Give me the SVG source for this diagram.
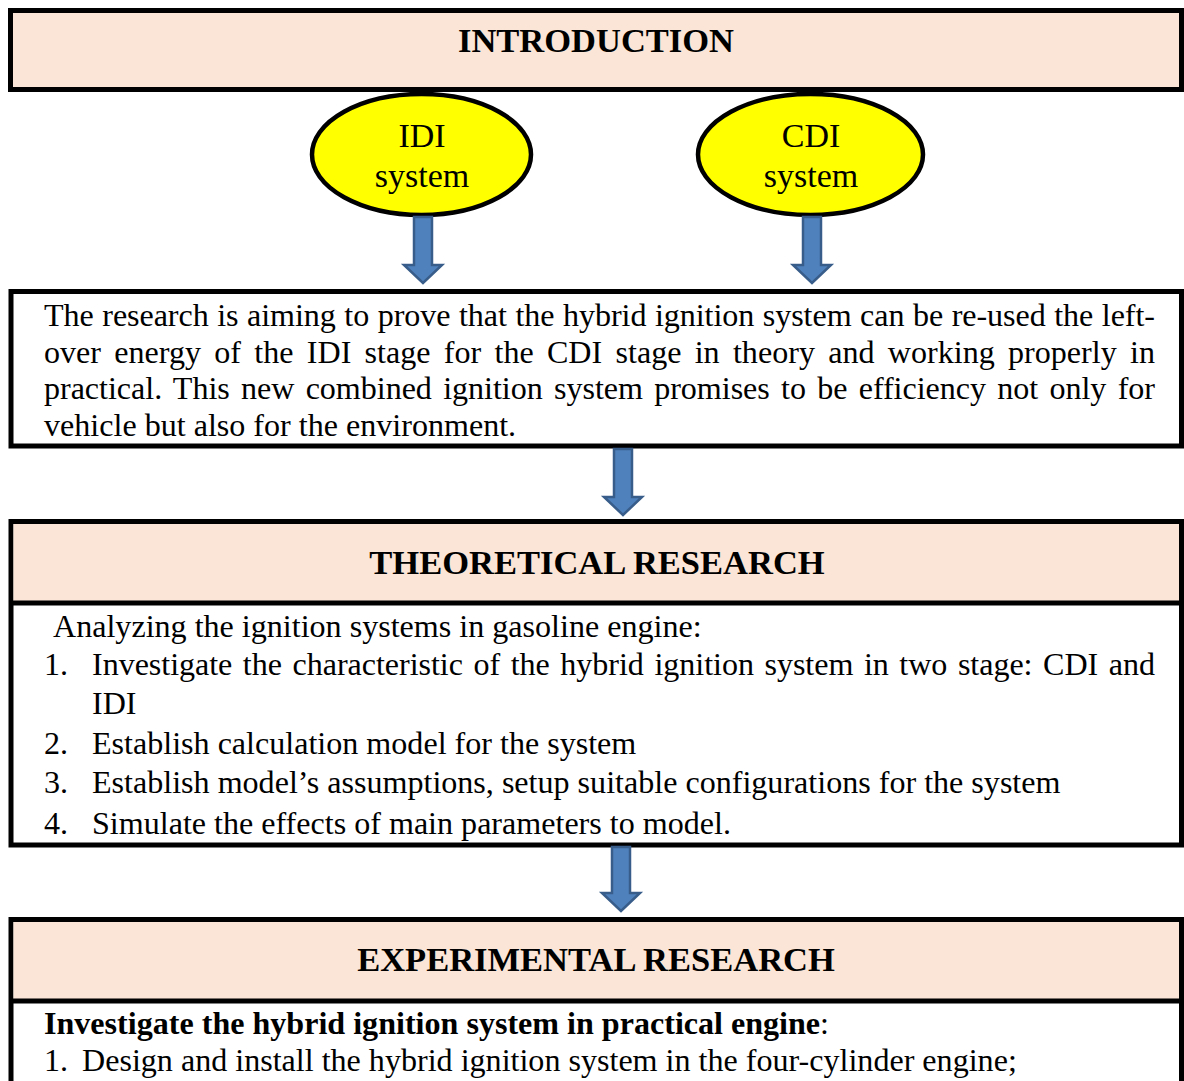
<svg xmlns="http://www.w3.org/2000/svg" width="1184" height="1081" viewBox="0 0 1184 1081">
<style>
.box{fill:#ffffff;stroke:#000;stroke-width:5}
.hdr{fill:#FBE5D6;stroke:#000;stroke-width:5}
.ell{fill:#FFFF00;stroke:#000;stroke-width:4.5}
.arr{fill:#4F81BD;stroke:#385D8A;stroke-width:2.5}
.sep{stroke:#000;stroke-width:5;fill:none}
text{font-family:"Liberation Serif","Times New Roman",serif;fill:#000}
.h{font-size:34.5px;font-weight:bold;text-anchor:middle}
.e{font-size:34px;text-anchor:middle}
.b{font-size:32.1px}
</style>
<rect width="1184" height="1081" fill="#ffffff"/>
<g id="introduction">
<rect class="hdr" x="10.5" y="10.5" width="1171" height="79"/>
<text class="h" x="596" y="52">INTRODUCTION</text>
</g>
<g id="idi">
<ellipse class="ell" cx="421.5" cy="154.5" rx="109.5" ry="60.5"/>
<text class="e" x="422" y="147">IDI</text>
<text class="e" x="422" y="187">system</text>
</g>
<g id="cdi">
<ellipse class="ell" cx="810.5" cy="154.5" rx="112.5" ry="60.5"/>
<text class="e" x="811" y="147">CDI</text>
<text class="e" x="811" y="187">system</text>
</g>
<g id="aim">
<rect class="box" x="11" y="291.5" width="1170.5" height="154.5"/>
<text class="b" x="44" y="326" word-spacing="0.6" textLength="1111" lengthAdjust="spacing">The research is aiming to prove that the hybrid ignition system can be re-used the left-</text>
<text class="b" x="44" y="363" word-spacing="5.2" textLength="1111" lengthAdjust="spacing">over energy of the IDI stage for the CDI stage in theory and working properly in</text>
<text class="b" x="44" y="399" word-spacing="3.3" textLength="1111" lengthAdjust="spacing">practical. This new combined ignition system promises to be efficiency not only for</text>
<text class="b" x="44" y="436">vehicle but also for the environment.</text>
</g>
<g id="theoretical">
<rect class="box" x="11" y="521.5" width="1170.5" height="323.5"/>
<rect x="13.5" y="524" width="1165.5" height="79" fill="#FBE5D6"/>
<line class="sep" x1="11" y1="603" x2="1181.5" y2="603"/>
<text class="h" x="597" y="574">THEORETICAL RESEARCH</text>
<text class="b" x="53" y="637">Analyzing the ignition systems in gasoline engine:</text>
<text class="b" x="44" y="675">1.</text>
<text class="b" x="92" y="675" word-spacing="2.6" textLength="1063" lengthAdjust="spacing">Investigate the characteristic of the hybrid ignition system in two stage: CDI and</text>
<text class="b" x="92" y="714">IDI</text>
<text class="b" x="44" y="754">2.</text>
<text class="b" x="92" y="754">Establish calculation model for the system</text>
<text class="b" x="44" y="793">3.</text>
<text class="b" x="92" y="793">Establish model’s assumptions, setup suitable configurations for the system</text>
<text class="b" x="44" y="834">4.</text>
<text class="b" x="92" y="834">Simulate the effects of main parameters to model.</text>
</g>
<g id="experimental">
<path class="box" d="M11 1090 V919.5 H1181.5 V1090"/>
<rect x="13.5" y="922" width="1165.5" height="79" fill="#FBE5D6"/>
<line class="sep" x1="11" y1="1001" x2="1181.5" y2="1001"/>
<text class="h" x="596" y="971">EXPERIMENTAL RESEARCH</text>
<text class="b" x="44" y="1034"><tspan font-weight="bold">Investigate the hybrid ignition system in practical engine</tspan>:</text>
<text class="b" x="44" y="1071">1.</text>
<text class="b" x="82" y="1071">Design and install the hybrid ignition system in the four-cylinder engine;</text>
</g>
<g id="connectors">
<path class="arr" d="M414 217 H432 V265 H442 L423 283 L404 265 H414 Z"/>
<path class="arr" d="M803 217 H821 V265 H831 L812 283 L793 265 H803 Z"/>
<path class="arr" d="M614 449 H632 V497 H642 L623 515 L604 497 H614 Z"/>
<path class="arr" d="M612 847 H630 V893 H640 L621 911 L602 893 H612 Z"/>
</g>
</svg>
